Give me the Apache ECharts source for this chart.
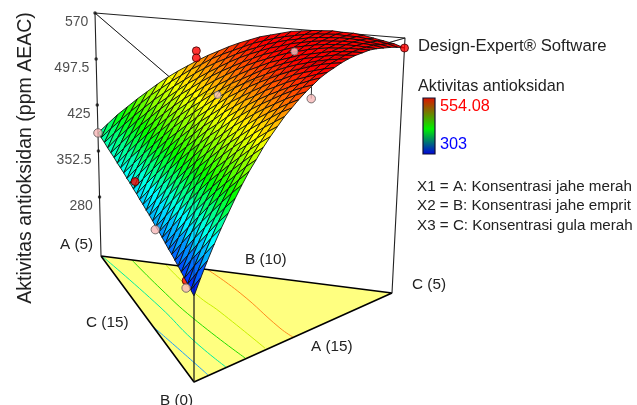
<!DOCTYPE html>
<html>
<head>
<meta charset="utf-8">
<style>
html, body { margin: 0; padding: 0; background: #fff; }
#chart { width: 637px; height: 405px; }
</style>
<script src="https://cdn.jsdelivr.net/npm/echarts@6/dist/echarts.min.js"></script>
</head>
<body>
<div id="chart"></div>
<script>
// response, row 0 is the low corner, last row the back edge
const surfaceRows = [
    [303],
    [306, 324],
    [309, 327, 344],
    [312, 330, 347, 363],
    [315, 333, 349, 366, 381],
    [318, 335, 352, 368, 384, 398],
    [321, 338, 355, 371, 386, 401, 415],
    [324, 341, 358, 374, 389, 404, 418, 431],
    [326, 344, 360, 376, 392, 406, 420, 433, 446],
    [329, 346, 363, 379, 394, 409, 422, 435, 448, 459],
    [332, 349, 366, 382, 397, 411, 425, 438, 450, 462, 473],
    [335, 352, 368, 384, 399, 414, 427, 440, 452, 464, 475, 485],
    [337, 354, 371, 387, 402, 416, 430, 442, 455, 466, 477, 487, 496],
    [340, 357, 373, 389, 404, 418, 432, 445, 457, 468, 479, 489, 498, 507],
    [343, 360, 376, 392, 407, 421, 434, 447, 459, 470, 481, 491, 500, 509, 516],
    [345, 362, 378, 394, 409, 423, 436, 449, 461, 472, 483, 493, 502, 510, 518, 525],
    [348, 365, 381, 396, 411, 425, 439, 451, 463, 475, 485, 495, 504, 512, 520, 527, 533],
    [350, 367, 383, 399, 414, 428, 441, 454, 465, 477, 487, 497, 506, 514, 522, 529, 535, 540],
    [353, 370, 386, 401, 416, 430, 443, 456, 467, 479, 489, 499, 508, 516, 523, 530, 536, 542, 547],
    [355, 372, 388, 404, 418, 432, 445, 458, 469, 481, 491, 501, 509, 518, 525, 532, 538, 543, 548, 552],
    [358, 375, 391, 406, 420, 434, 447, 460, 471, 482, 493, 502, 511, 519, 527, 533, 540, 545, 549, 553, 556],
    [360, 377, 393, 408, 423, 436, 449, 462, 473, 484, 495, 504, 513, 521, 528, 535, 541, 546, 551, 555, 558, 560],
    [363, 379, 395, 410, 425, 439, 452, 464, 475, 486, 496, 506, 515, 523, 530, 537, 543, 548, 552, 556, 559, 561, 563],
    [365, 382, 397, 413, 427, 441, 454, 466, 477, 488, 498, 508, 516, 524, 532, 538, 544, 549, 554, 557, 560, 563, 564, 565],
    [367, 384, 400, 415, 429, 443, 456, 468, 479, 490, 500, 509, 518, 526, 533, 540, 545, 550, 555, 558, 561, 564, 565, 566, 566],
    [370, 386, 402, 417, 431, 445, 458, 470, 481, 492, 502, 511, 520, 528, 535, 541, 547, 552, 556, 560, 563, 565, 566, 567, 567, 567],
    [372, 388, 404, 419, 433, 447, 460, 472, 483, 494, 504, 513, 521, 529, 536, 543, 548, 553, 558, 561, 564, 566, 567, 568, 568, 567, 566],
    [374, 391, 406, 421, 435, 449, 461, 473, 485, 495, 505, 514, 523, 531, 538, 544, 550, 554, 559, 562, 565, 567, 568, 569, 569, 568, 567, 564],
    [377, 393, 408, 423, 437, 451, 463, 475, 486, 497, 507, 516, 524, 532, 539, 545, 551, 556, 560, 563, 566, 568, 569, 570, 570, 569, 567, 565, 562],
    [379, 395, 410, 425, 439, 453, 465, 477, 488, 499, 508, 518, 526, 533, 540, 547, 552, 557, 561, 564, 567, 569, 570, 571, 570, 570, 568, 566, 563, 559],
    [381, 397, 413, 427, 441, 454, 467, 479, 490, 500, 510, 519, 527, 535, 542, 548, 554, 558, 562, 566, 568, 570, 571, 572, 571, 571, 569, 566, 563, 560, 555]
];

const zTicks = [570, 497.5, 425, 352.5, 280];

// design points: share of left and right corner, then response
const pointLeft = [0.673, 0.673, 1, 0.615, 0.406, 0.083, 0.083, 0.44, 0.355, 0, 0];
const pointRight = [0.327, 0.327, 0, 0, 0, 0, 0, 0.32, 0.645, 0.56, 1];
const pointZ = [524, 513, 381, 369, 332, 311, 301, 490, 536, 521, 555];
const pointKind = ['red', 'red', 'pink', 'red', 'pink', 'redBehind', 'pink', 'pinkSmall', 'pinkSmall', 'pink', 'red'];

// contours on the floor, each as [left share, right share]
const contourColors = ['#1e9bff', '#00eea0', '#22dd00', '#c8f000', '#ff8a1e'];
const contours = [
    [[0.438, 0], [0.228, 0.036], [0.004, 0.073]],
    [[0.989, 0.005], [0.538, 0.081], [0.253, 0.114], [0.004, 0.163]],
    [[0.893, 0.106], [0.651, 0.134], [0.384, 0.175], [0.006, 0.261]],
    [[0.772, 0.221], [0.510, 0.255], [0.348, 0.295], [0.012, 0.364]],
    [[0.630, 0.367], [0.407, 0.424], [0.091, 0.477], [0.003, 0.501]]
];

const legendMax = 554.08;
const legendMin = 303;

// where the box corners land on the page
const boxLeft = {floor: [101, 256], roof: [95, 13]};
const boxRight = {floor: [392, 293], roof: [405, 38]};
const boxFront = {floor: [194, 382], roof: [194, 98]};
const zFloor = 187;
const zRoof = 570;

function project(left, right, z)
{
    let front = 1 - left - right;
    let t = (z - zFloor) / (zRoof - zFloor);
    let out = [0, 1].map(function (d)
    {
        let floor = left * boxLeft.floor[d] + right * boxRight.floor[d] + front * boxFront.floor[d];
        let roof = left * boxLeft.roof[d] + right * boxRight.roof[d] + front * boxFront.roof[d];
        return floor + (roof - floor) * t;
    });
    return out;
}

function surfacePoint(row, col)
{
    let last = surfaceRows.length - 1;
    return project((row - col) / last, col / last, surfaceRows[row][col]);
}

const colorStops = [
    [303, [0, 0, 255]],
    [365, [0, 255, 255]],
    [415, [0, 255, 0]],
    [478, [255, 255, 0]],
    [550, [255, 0, 0]]
];

function heightColor(z)
{
    if (z <= colorStops[0][0]) return 'rgb(0,0,255)';
    for (let i = 1; i < colorStops.length; i++)
    {
        if (z <= colorStops[i][0])
        {
            let a = colorStops[i - 1];
            let b = colorStops[i];
            let t = (z - a[0]) / (b[0] - a[0]);
            let c = a[1].map(function (v, d)
            {
                return Math.round(v + (b[1][d] - v) * t);
            });
            return 'rgb(' + c.join(',') + ')';
        }
    }
    return 'rgb(255,0,0)';
}

// back rows first so nearer cells paint over them
let cells = [];
for (let row = surfaceRows.length - 2; row >= 0; row--)
{
    cells.push([row, -1]);
    for (let col = 0; col < row; col++)
    {
        cells.push([row, col]);
    }
}

function cellCorners(row, col)
{
    if (col < 0) return [[row, 0], [row + 1, 1], [row + 1, 0]];
    return [[row, col], [row, col + 1], [row + 1, col + 2], [row + 1, col + 1]];
}

function polyItem(points, api, style)
{
    return {
        type: 'polygon',
        shape: {points: points.map(function (p) { return api.coord(p); })},
        style: style,
        silent: true
    };
}

function lineSeries(data, color, width, opacity, z, smooth)
{
    return {
        type: 'line',
        data: data,
        symbol: 'none',
        silent: true,
        smooth: smooth || false,
        z: z,
        lineStyle: {color: color, width: width, opacity: opacity === undefined ? 1 : opacity},
        clip: false
    };
}

const pointStyles = {
    red: {color: '#ff0000', borderColor: '#3a0000', size: 8},
    redBehind: {color: '#ff0000', borderColor: '#3a0000', size: 8},
    pink: {color: '#f8b8b8', borderColor: '#555555', size: 8.5},
    pinkSmall: {color: '#f8c4c4', borderColor: '#777777', size: 7}
};

function pointItem(i)
{
    let style = pointStyles[pointKind[i]];
    return {
        value: project(pointLeft[i], pointRight[i], pointZ[i]),
        symbolSize: style.size,
        itemStyle: {color: style.color, borderColor: style.borderColor, borderWidth: 1}
    };
}

function pointSeries(test, z)
{
    let data = [];
    pointZ.forEach(function (v, i)
    {
        if (test(pointKind[i])) data.push(pointItem(i));
    });
    return {type: 'scatter', data: data, silent: true, z: z};
}

let floorL = boxLeft.floor, floorR = boxRight.floor, floorF = boxFront.floor;
let roofL = boxLeft.roof, roofR = boxRight.roof, roofF = boxFront.roof;

let series = [
    {
        type: 'custom',
        coordinateSystem: 'cartesian2d',
        data: [[0]],
        silent: true,
        z: 1,
        renderItem: function (params, api)
        {
            return polyItem([floorL, floorR, floorF], api, {fill: '#ffff80'});
        }
    }
];

contours.forEach(function (c, i)
{
    let data = c.map(function (p) { return project(p[0], p[1], zFloor); });
    series.push(lineSeries(data, contourColors[i], 1, 1, 2, 0.5));
});

// floor edges and the box around the plot
series.push(lineSeries([floorL, floorR, floorF, floorL], '#000', 1.6, 1, 3));
series.push(lineSeries([floorF, project(0, 0, 303)], '#111', 1.2, 1, 3));
series.push(lineSeries([floorL, roofL, roofR, floorR], '#222', 1.1, 1, 3));
series.push(lineSeries([roofL, roofF, roofR], '#222', 1, 1, 3));

series.push({
    type: 'scatter',
    data: zTicks.map(function (v) { return project(1, 0, v); }),
    symbolSize: 3.5,
    silent: true,
    z: 3,
    itemStyle: {color: '#111'},
    label: {
        show: true,
        position: 'left',
        distance: 5,
        offset: [0, 9],
        color: '#222',
        fontFamily: 'Liberation Sans',
        fontSize: 14,
        formatter: function (p)
        {
            return String(zTicks[p.dataIndex]);
        }
    }
});

series.push(pointSeries(function (k) { return k === 'redBehind'; }, 3));

series.push({
    type: 'custom',
    coordinateSystem: 'cartesian2d',
    data: cells,
    silent: true,
    z: 4,
    animation: false,
    progressive: 0,
    renderItem: function (params, api)
    {
        let cell = cells[params.dataIndex];
        let corners = cellCorners(cell[0], cell[1]);
        let sum = 0;
        corners.forEach(function (c) { sum += surfaceRows[c[0]][c[1]]; });
        let pts = corners.map(function (c) { return surfacePoint(c[0], c[1]); });
        return polyItem(pts, api, {
            fill: heightColor(sum / corners.length),
            stroke: '#0a0a0a',
            lineWidth: 0.85,
            lineJoin: 'round'
        });
    }
});

// box lines show faintly through the surface
series.push(lineSeries([roofF, project(0, 0, 303)], '#111', 0.9, 0.65, 5));
series.push(lineSeries([roofL, roofF, roofR], '#111', 0.8, 0.35, 5));

// short stem from the lone point up to the surface edge
series.push(lineSeries([project(0, 0.56, 521), project(0, 0.56, 538)], '#333', 1, 1, 5));

series.push(pointSeries(function (k) { return k !== 'redBehind'; }, 6));

function textEl(text, x, y, size, fill, rotation)
{
    return {
        type: 'text',
        x: x,
        y: y,
        rotation: rotation || 0,
        silent: true,
        z: 10,
        style: {
            text: text,
            fill: fill || '#222',
            font: size + 'px "Liberation Sans"',
            textVerticalAlign: 'middle',
            textAlign: rotation ? 'center' : 'left'
        }
    };
}

let myChart = echarts.init(document.getElementById('chart'), null, {renderer: 'canvas'});

let option = {
    animation: false,
    grid: {left: 0, right: 0, top: 0, bottom: 0},
    xAxis: {type: 'value', min: 0, max: 637, show: false},
    yAxis: {type: 'value', min: 0, max: 405, inverse: true, show: false},
    series: series,
    graphic: {
        elements: [
            textEl('Aktivitas antioksidan (ppm AEAC)', 26, 158, 19.5, '#222', Math.PI / 2),
            textEl('A (5)', 60, 245, 15.3),
            textEl('B (10)', 245, 260, 15.3),
            textEl('C (5)', 412, 285, 15.3),
            textEl('A (15)', 311, 347, 15.3),
            textEl('C (15)', 86, 323, 15.3),
            textEl('B (0)', 160, 401, 15.3),
            textEl('Design-Expert\u00ae Software', 418, 46, 16.7),
            textEl('Aktivitas antioksidan', 418, 87, 16.2),
            textEl(String(legendMax), 440, 107, 16.3, '#ff0000'),
            textEl(String(legendMin), 440, 145, 16.3, '#0000ff'),
            textEl('X1 = A: Konsentrasi jahe merah', 417, 187, 15.2),
            textEl('X2 = B: Konsentrasi jahe emprit', 417, 206, 15.2),
            textEl('X3 = C: Konsentrasi gula merah', 417, 226, 15.2),
            {
                type: 'rect',
                silent: true,
                z: 10,
                shape: {x: 423, y: 98, width: 12, height: 56},
                style: {
                    stroke: '#101030',
                    lineWidth: 1.2,
                    fill: new echarts.graphic.LinearGradient(0, 0, 0, 1, [
                        {offset: 0, color: '#e01000'},
                        {offset: 0.55, color: '#00f000'},
                        {offset: 1, color: '#0000e0'}
                    ])
                }
            }
        ]
    }
};

myChart.setOption(option);
</script>
</body>
</html>
